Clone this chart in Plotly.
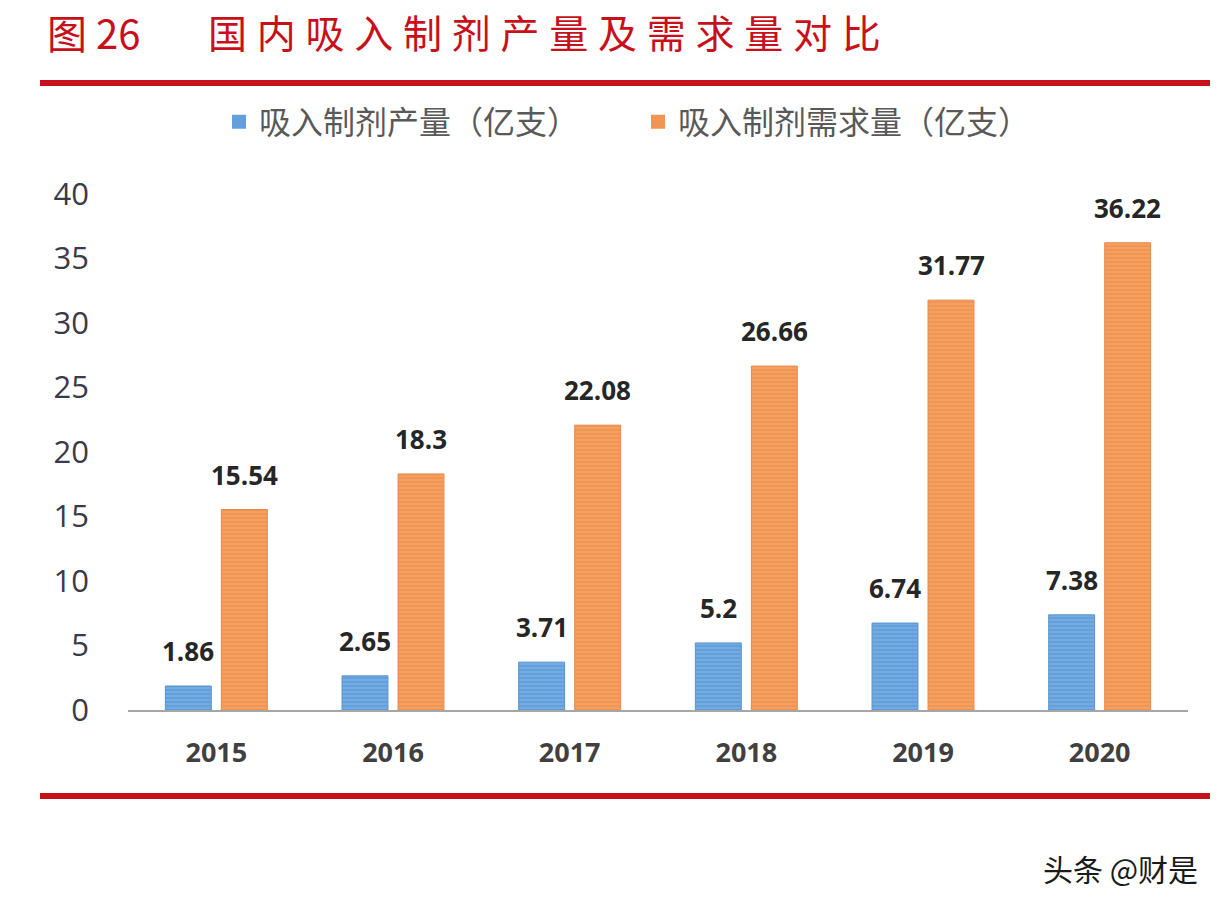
import plotly.graph_objects as go

years = ["2015", "2016", "2017", "2018", "2019", "2020"]
production = [1.86, 2.65, 3.71, 5.2, 6.74, 7.38]
demand = [15.54, 18.3, 22.08, 26.66, 31.77, 36.22]
prod_labels = ["1.86", "2.65", "3.71", "5.2", "6.74", "7.38"]
demand_labels = ["15.54", "18.3", "22.08", "26.66", "31.77", "36.22"]
series_names = ["吸入制剂产量（亿支）", "吸入制剂需求量（亿支）"]
title_fig = "图 26"
title_main = "国内吸入制剂产量及需求量对比"
watermark = "头条 @财是"

W, H = 1228, 910
OFF = 0  # body margin removed in post_script


def px(x):
    return (x - OFF) / W


def py(y):
    return 1 - (y - OFF) / H


blue = "#639fdb"
orange = "#f29552"
red = "#c8101a"
num_font = "Open Sans"

fig = go.Figure()
fig.add_trace(go.Bar(
    x=years, y=production, name=series_names[0], showlegend=False,
    marker=dict(color=blue, line=dict(width=1, color="#5a93cc"),
                pattern=dict(shape="-", fillmode="overlay", fgcolor="#9cc6ee",
                             size=4, solidity=0.3)),
))
fig.add_trace(go.Bar(
    x=years, y=demand, name=series_names[1], showlegend=False,
    marker=dict(color=orange, line=dict(width=1, color="#e8884a"),
                pattern=dict(shape="-", fillmode="overlay", fgcolor="#f9bb8c",
                             size=4, solidity=0.3)),
))
# legend entries (solid squares like the reference)
for name, col in zip(series_names, [blue, orange]):
    fig.add_trace(go.Scatter(x=[None], y=[None], mode="markers", name=name,
                             marker=dict(symbol="square", size=14, color=col)))

annotations = []
for i, yr in enumerate(years):
    annotations.append(dict(x=i, y=production[i], xref="x", yref="y",
                            text="<b>" + prod_labels[i] + "</b>",
                            showarrow=False, xshift=-28, yshift=15, yanchor="bottom",
                            font=dict(size=26, color="#262626", family=num_font)))
    annotations.append(dict(x=i, y=demand[i], xref="x", yref="y",
                            text="<b>" + demand_labels[i] + "</b>",
                            showarrow=False, xshift=28, yshift=15, yanchor="bottom",
                            font=dict(size=26, color="#262626", family=num_font)))

sp = "\u2005"
annotations.append(dict(x=px(45), y=py(1), xref="paper", yref="paper", xanchor="left",
                        yanchor="top", showarrow=False, text=title_fig,
                        font=dict(size=40, color=red, family="Noto Sans CJK SC")))
annotations.append(dict(x=px(206), y=py(1), xref="paper", yref="paper", xanchor="left",
                        yanchor="top", showarrow=False, text=sp.join(title_main),
                        font=dict(size=39, color=red, family="Noto Sans CJK SC")))
annotations.append(dict(x=px(1200), y=py(868), xref="paper", yref="paper", xanchor="right",
                        yanchor="middle", showarrow=False, text=watermark,
                        font=dict(size=30, color="#1a1a1a", family="Noto Sans CJK SC")))

shapes = [
    dict(type="line", xref="paper", yref="paper", x0=px(40), x1=px(1210),
         y0=py(83), y1=py(83), line=dict(color=red, width=6)),
    dict(type="line", xref="paper", yref="paper", x0=px(40), x1=px(1210),
         y0=py(796), y1=py(796), line=dict(color=red, width=6)),
]

fig.update_layout(
    template="none",
    width=W, height=H,
    margin=dict(l=0, r=0, t=0, b=0, pad=0),
    paper_bgcolor="white", plot_bgcolor="white",
    barmode="group", bargap=0.366, bargroupgap=0.18,
    showlegend=True,
    legend=dict(orientation="h", x=px(219), xanchor="left", y=py(122), yanchor="middle",
                font=dict(size=32, color="#595959", family="Noto Sans CJK SC"),
                entrywidth=374, itemwidth=30, traceorder="normal", bgcolor="rgba(0,0,0,0)"),
    xaxis=dict(type="category", domain=[px(128), px(1188)], range=[-0.5, 5.5],
               showgrid=False, showline=True,
               linecolor="#a6a6a6", linewidth=2, ticks="", ticklabelstandoff=18,
               automargin=False, fixedrange=True,
               tickvals=years, ticktext=["<b>" + y + "</b>" for y in years],
               tickfont=dict(size=27, color="#404040", family=num_font),
               anchor="y"),
    yaxis=dict(domain=[py(710), py(194)], range=[0, 40], dtick=5,
               showgrid=False, showline=False, zeroline=False, ticks="",
               ticklabelstandoff=38, automargin=False, fixedrange=True,
               tickfont=dict(size=31, color="#3a3a4a", family=num_font)),
    annotations=annotations,
    shapes=shapes,
    font=dict(family="Noto Sans CJK SC"),
    hovermode=False,
)

fig.write_html("out.html", config={"displayModeBar": False},
               post_script="document.body.style.margin='0';")
